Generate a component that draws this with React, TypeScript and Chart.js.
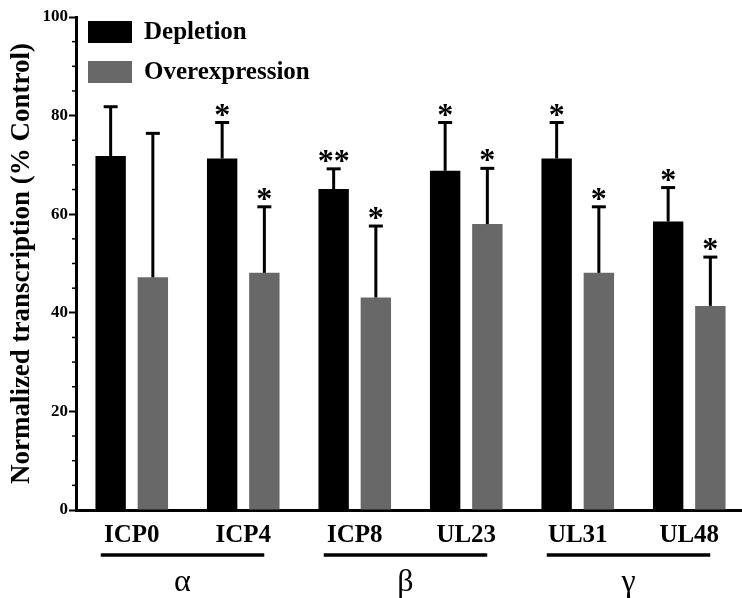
import React, { useEffect, useRef } from 'react';
import { Chart, registerables } from 'chart.js';

Chart.register(...registerables);

const categories = ['ICP0', 'ICP4', 'ICP8', 'UL23', 'UL31', 'UL48'];
const seriesNames = ['Depletion', 'Overexpression'];
const seriesColors = ['#000000', '#686868'];
const depletion = [71.8, 71.3, 65.1, 68.8, 71.3, 58.5];
const depletionSD = [10.0, 7.3, 4.1, 9.8, 7.3, 6.9];
const depletionSig = ['', '*', '**', '*', '*', '*'];
const overexpression = [47.2, 48.1, 43.1, 58.0, 48.1, 41.4];
const overexpressionSD = [29.2, 13.4, 14.5, 11.3, 13.4, 9.9];
const overexpressionSig = ['', '*', '*', '*', '*', '*'];
const groupLabels = ['α', 'β', 'γ'];
const groupStart = [0, 2, 4];
const groupEnd = [1, 3, 5];
const yAxisTitle = 'Normalized transcription (% Control)';
const yMajorStep = 20;
const yMinorStep = 5;

const FONT = '"Liberation Serif", "Times New Roman", serif';

const errorBarPlugin = {
  id: 'errorBars',
  afterDatasetsDraw(chart: any) {
    const ctx = chart.ctx;
    const y = chart.scales.y;
    chart.data.datasets.forEach((ds: any, di: number) => {
      const meta = chart.getDatasetMeta(di);
      meta.data.forEach((bar: any, i: number) => {
        const v = ds.data[i];
        const top = y.getPixelForValue(v + ds.sd[i]);
        ctx.save();
        ctx.strokeStyle = '#000';
        ctx.lineWidth = 3;
        ctx.beginPath();
        ctx.moveTo(bar.x, bar.y);
        ctx.lineTo(bar.x, top);
        ctx.stroke();
        ctx.beginPath();
        ctx.moveTo(bar.x - 7, top);
        ctx.lineTo(bar.x + 7, top);
        ctx.stroke();
        const s = ds.sig[i];
        if (s) {
          ctx.fillStyle = '#000';
          ctx.font = `bold 32px ${FONT}`;
          ctx.textAlign = 'center';
          ctx.textBaseline = 'alphabetic';
          ctx.fillText(s, bar.x, top + 2);
        }
        ctx.restore();
      });
    });
  },
};

const decorPlugin = {
  id: 'decor',
  afterDraw(chart: any) {
    const ctx = chart.ctx;
    const x = chart.scales.x;
    const y = chart.scales.y;
    const area = chart.chartArea;
    ctx.save();
    // minor y ticks
    ctx.strokeStyle = '#000';
    ctx.lineWidth = 1.5;
    y.ticks.forEach((t: any) => {
      if (t.value % yMajorStep !== 0) {
        const py = y.getPixelForValue(t.value);
        ctx.beginPath();
        ctx.moveTo(area.left - 4, py);
        ctx.lineTo(area.left, py);
        ctx.stroke();
      }
    });
    // group lines & labels
    groupLabels.forEach((g, gi) => {
      const a = x.getPixelForValue(groupStart[gi]) - 31;
      const b = x.getPixelForValue(groupEnd[gi]) + 21;
      ctx.lineWidth = 3.5;
      ctx.beginPath();
      ctx.moveTo(a, 555);
      ctx.lineTo(b, 555);
      ctx.stroke();
      ctx.fillStyle = '#000';
      ctx.font = `32px ${FONT}`;
      ctx.textAlign = 'center';
      ctx.textBaseline = 'alphabetic';
      ctx.fillText(g, (a + b) / 2, 591);
    });
    // legend
    chart.data.datasets.forEach((ds: any, di: number) => {
      const bx = area.left + 12;
      const by = area.top + 4 + di * 40;
      ctx.fillStyle = ds.backgroundColor;
      ctx.fillRect(bx, by, 44, 22);
      ctx.fillStyle = '#000';
      ctx.font = `bold 25px ${FONT}`;
      ctx.textAlign = 'left';
      ctx.textBaseline = 'middle';
      ctx.fillText(ds.label, bx + 56, by + 12);
    });
    ctx.restore();
  },
};

export default function App() {
  const ref = useRef<HTMLCanvasElement | null>(null);
  useEffect(() => {
    if (!ref.current) return;
    const chart = new Chart(ref.current, {
      type: 'bar',
      data: {
        labels: categories,
        datasets: [
          {
            label: seriesNames[0],
            data: depletion,
            backgroundColor: seriesColors[0],
            sd: depletionSD,
            sig: depletionSig,
          } as any,
          {
            label: seriesNames[1],
            data: overexpression,
            backgroundColor: seriesColors[1],
            sd: overexpressionSD,
            sig: overexpressionSig,
          } as any,
        ],
      },
      options: {
        animation: false,
        responsive: true,
        maintainAspectRatio: false,
        layout: { padding: { top: 17, left: 0, right: 0, bottom: 0 } },
        datasets: { bar: { categoryPercentage: 0.757, barPercentage: 0.72 } },
        plugins: { legend: { display: false }, tooltip: { enabled: false } },
        scales: {
          x: {
            grid: { display: false },
            border: { display: true, color: '#000', width: 3 },
            ticks: {
              font: { family: FONT, size: 25, weight: 'bold' },
              color: '#000',
              padding: 3,
              maxRotation: 0,
              autoSkip: false,
            },
            afterFit: (s: any) => { s.height = 88; },
          },
          y: {
            min: 0,
            max: 100,
            ticks: {
              stepSize: yMinorStep,
              autoSkip: false,
              callback: (v: any) => (Number(v) % yMajorStep === 0 ? String(v) : ''),
              font: { family: FONT, size: 17, weight: 'bold' },
              color: '#000',
              padding: 1,
            },
            grid: {
              drawOnChartArea: false,
              drawTicks: true,
              tickLength: 7,
              tickWidth: 2,
              tickColor: (c: any) => (c.tick && c.tick.value % yMajorStep === 0 ? '#000' : 'rgba(0,0,0,0)'),
            },
            border: { display: true, color: '#000', width: 3 },
            title: {
              display: true,
              text: yAxisTitle,
              font: { family: FONT, size: 27, weight: 'bold' },
              color: '#000',
              padding: { top: 6, bottom: 0 },
            },
            afterFit: (s: any) => { s.width = 76; },
          },
        },
      },
      plugins: [errorBarPlugin, decorPlugin],
    });
    return () => chart.destroy();
  }, []);
  return (
    <div style={{ position: 'fixed', left: 0, top: 0, width: 745, height: 598, background: '#fff' }}>
      <canvas ref={ref} />
    </div>
  );
}
